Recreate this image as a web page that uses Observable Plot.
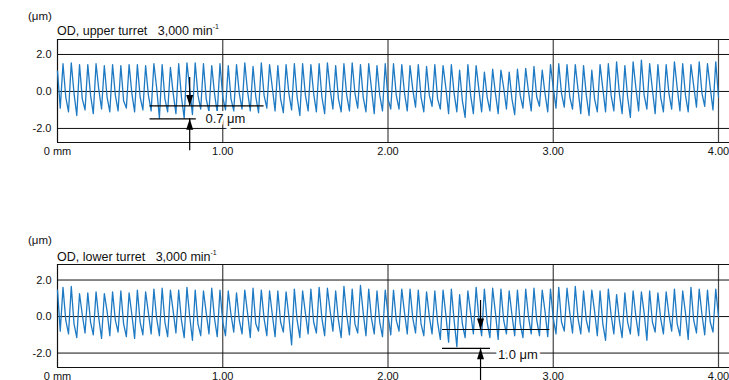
<!DOCTYPE html>
<html><head><meta charset="utf-8">
<script src="https://cdn.jsdelivr.net/npm/d3@7"></script>
<script src="https://cdn.jsdelivr.net/npm/@observablehq/plot@0.6"></script>
<style>
body{margin:0;background:#fff;}
#wrap{position:relative;width:729px;height:380px;overflow:hidden;background:#fff;font-family:"Liberation Sans",Arial,Helvetica,sans-serif;color:#111;}
.panel{position:absolute;left:0;}
.unit{position:absolute;left:28px;font-size:11.5px;line-height:12px;}
.title{position:absolute;left:57px;font-size:12.5px;line-height:14px;white-space:pre;}
.title sup{font-size:7px;position:relative;top:-1px;}
</style></head><body><div id="wrap"></div>
<script>
// ---- data (µm), sampled every 1/60 mm along the part ----
const sampleSpacing = 1 / 60;           // mm between samples
const xTicks = [0, 1, 2, 3, 4];         // mm
const yTicks = [-2, 0, 2];              // µm
const titles = ["OD, upper turret   3,000 min", "OD, lower turret   3,000 min"];

// upper turret trace: first samples, then per feed-mark peak / kink / trough
const upperStart = [1.10, -0.90];
const upperPeaks = [
  1.50,1.55,1.45,1.45,1.50,1.40,1.45,1.40,1.45,1.45,
  1.40,1.50,1.45,1.30,1.50,1.55,1.55,1.50,1.40,1.50,
  1.40,1.45,1.55,1.35,1.55,1.45,1.40,1.45,1.50,1.50,
  1.45,1.50,1.55,1.40,1.50,1.55,1.45,1.50,1.40,1.50,
  1.50,1.45,1.40,1.45,1.35,1.45,1.40,1.45,1.15,1.45,
  1.40,1.05,1.20,1.15,1.05,1.20,1.25,1.35,1.15,1.45,
  1.50,1.45,1.45,1.40,1.15,1.45,1.50,1.60,1.40,1.60,
  1.70,1.50,1.45,1.45,1.60,1.50,1.45,1.60,1.50,1.60];
const upperKinks = [
  -0.30,-0.10,-0.40,-0.20,0.10,-0.30,-0.20,-0.50,-0.10,-0.30,
  -0.20,0.20,-0.40,-0.10,-0.30,0.15,-0.20,-0.40,-0.10,-0.30,
  -0.40,-0.10,0.00,-0.30,-0.20,0.20,-0.40,-0.10,-0.30,-0.20,
  -0.10,-0.30,0.10,-0.40,-0.20,-0.10,-0.30,0.15,-0.20,-0.40,
  -0.20,-0.10,0.10,-0.30,-0.20,-0.40,0.20,-0.10,-0.50,-0.20,
  0.10,-0.30,-0.10,0.20,-0.40,-0.20,0.00,-0.30,-0.10,0.20,
  -0.10,-0.30,0.10,-0.20,-0.40,0.15,-0.20,-0.10,-0.30,0.20,
  -0.20,0.10,-0.30,-0.10,0.20,-0.20,0.30,-0.10,0.20,-0.30];
const upperTroughs = [
  -1.10,-1.30,-1.00,-1.20,-0.95,-1.10,-1.05,-0.90,-1.10,-1.00,
  -1.05,-1.45,-1.10,-1.20,-1.45,-1.25,-0.95,-1.10,-1.15,-1.00,
  -1.05,-0.95,-1.05,-1.15,-0.90,-1.05,-1.15,-1.00,-1.30,-1.05,
  -1.10,-1.20,-0.95,-1.10,-1.05,-0.90,-1.10,-1.20,-1.05,-0.95,
  -0.95,-1.05,-0.85,-1.10,-0.80,-0.95,-1.20,-1.10,-1.40,-1.20,
  -1.10,-1.05,-1.20,-0.95,-1.25,-0.90,-1.05,-0.80,-1.10,-0.90,
  -0.85,-0.95,-1.20,-1.30,-1.10,-1.10,-1.05,-1.20,-1.40,-1.05,
  -0.95,-1.20,-1.10,-0.95,-1.05,-1.10,-0.85,-0.80,-1.00];

// lower turret trace
const lowerStart = [1.45, -0.80];
const lowerPeaks = [
  1.60,1.65,1.25,1.30,1.35,1.25,1.35,1.40,1.30,1.45,
  1.35,1.50,1.55,1.45,1.45,1.60,1.45,1.40,1.55,1.45,
  1.40,1.30,1.45,1.55,1.45,1.40,1.40,1.35,1.50,1.40,
  1.50,1.60,1.55,1.40,1.65,1.50,1.70,1.50,1.40,1.45,
  1.45,1.50,1.50,1.45,1.35,1.40,1.45,1.50,1.20,1.40,
  1.60,1.50,1.55,1.50,1.40,1.45,1.50,1.55,1.45,1.50,
  1.60,1.55,1.65,1.40,1.45,1.40,1.50,1.20,1.30,1.40,
  1.35,1.40,1.30,1.35,1.50,1.40,1.60,1.50,1.45,1.50];
const lowerKinks = [
  -0.20,-0.40,0.10,-0.30,-0.10,0.30,-0.20,-0.40,0.10,-0.30,
  0.20,-0.10,-0.30,0.30,-0.20,0.00,-0.40,0.20,-0.10,-0.30,
  0.10,-0.20,0.20,-0.40,-0.10,0.10,-0.30,0.00,-0.20,0.20,
  -0.30,-0.10,0.30,-0.20,0.10,-0.40,0.20,-0.10,-0.30,0.10,
  -0.20,0.20,-0.10,-0.40,0.00,-0.30,0.10,-0.20,-0.40,0.20,
  -0.10,-0.30,0.20,-0.20,0.10,-0.40,0.00,-0.20,0.30,-0.10,
  -0.30,0.20,-0.10,-0.20,0.30,-0.40,0.10,-0.20,-0.30,0.00,
  0.20,-0.30,-0.10,0.10,-0.40,0.20,-0.20,0.10,-0.30,0.00];
const lowerTroughs = [
  -0.95,-1.15,-0.90,-1.00,-1.20,-1.05,-0.85,-1.10,-1.20,-1.00,
  -0.95,-1.05,-1.10,-0.90,-1.15,-1.30,-1.05,-0.95,-1.10,-1.05,
  -0.85,-0.95,-1.15,-0.80,-1.05,-1.10,-0.85,-1.55,-1.15,-0.95,
  -0.90,-1.05,-0.80,-1.15,-1.00,-0.90,-1.05,-0.95,-1.10,-1.00,
  -0.80,-0.95,-0.90,-1.05,-0.95,-1.25,-1.40,-1.65,-1.15,-0.95,
  -1.05,-1.15,-1.25,-0.95,-1.05,-1.15,-0.95,-1.05,-1.10,-0.95,
  -0.80,-0.90,-0.95,-0.85,-1.05,-1.30,-0.95,-1.15,-0.95,-1.05,
  -1.30,-0.85,-0.95,-0.80,-1.05,-1.25,-0.90,-1.00,-0.85];

// roughness call-outs: arrow position, the two reference levels, line extents (mm / µm)
const upperNote = {x: 0.80, hi: -0.78, lo: -1.48, hiFrom: 0.56, hiTo: 1.25, loFrom: 0.56, loTo: 0.84,
                   arrowTop: 0.76, arrowBottom: -3.2, labelX: 0.895, labelY: -1.50, label: "0.7 μm"};
const lowerNote = {x: 2.56, hi: -0.71, lo: -1.74, hiFrom: 2.33, hiTo: 2.98, loFrom: 2.33, loTo: 2.62,
                   arrowTop: 0.88, arrowBottom: -3.8, labelX: 2.665, labelY: -2.08, label: "1.0 μm"};

// ---- drawing ----
const blue = "#1f7ac4";
const downTri = {draw(ctx) { ctx.moveTo(0, 0); ctx.lineTo(-3.5, -11); ctx.lineTo(3.5, -11); ctx.closePath(); }};
const upTri = {draw(ctx) { ctx.moveTo(0, 0); ctx.lineTo(-3.5, 11); ctx.lineTo(3.5, 11); ctx.closePath(); }};

function buildTrace(start, peaks, kinks, troughs) {
  const ys = [...start];
  for (let k = 0; k < peaks.length; k++) {
    ys.push(peaks[k], kinks[k]);
    if (k < troughs.length) ys.push(troughs[k]);
  }
  return ys.map((y, j) => ({x: j * sampleSpacing, y}));
}

function panel({trace, note, yDomain, height, marginTop, marginBottom}) {
  return Plot.plot({
    width: 729, height, marginLeft: 57, marginRight: 0, marginTop, marginBottom,
    style: {fontFamily: "'Liberation Sans', Arial, Helvetica, sans-serif", fontSize: "11px", color: "#111", background: "transparent"},
    x: {domain: [0, 672 / 165.25]},
    y: {domain: yDomain},
    marks: [
      Plot.ruleX(xTicks.slice(1), {stroke: "#444", strokeWidth: 1.2}),
      Plot.ruleY(yTicks, {stroke: "#111", strokeWidth: 1}),
      Plot.ruleY(yDomain, {stroke: "#111", strokeWidth: 1.2}),
      Plot.ruleX([0], {stroke: "#111", strokeWidth: 1.2}),
      Plot.line(trace, {x: "x", y: "y", stroke: blue, strokeWidth: 1.3, strokeLinejoin: "round"}),
      Plot.ruleY([note], {y: "hi", x1: "hiFrom", x2: "hiTo", stroke: "#000", strokeWidth: 1.2}),
      Plot.ruleY([note], {y: "lo", x1: "loFrom", x2: "loTo", stroke: "#000", strokeWidth: 1.2}),
      Plot.ruleX([note], {x: "x", y1: "arrowTop", y2: "hi", stroke: "#000", strokeWidth: 1.2}),
      Plot.ruleX([note], {x: "x", y1: "lo", y2: "arrowBottom", stroke: "#000", strokeWidth: 1.2}),
      Plot.dot([note], {x: "x", y: "hi", symbol: downTri, r: 4, fill: "#000", stroke: null}),
      Plot.dot([note], {x: "x", y: "lo", symbol: upTri, r: 4, fill: "#000", stroke: null}),
      Plot.text([note], {x: "labelX", y: "labelY", text: "label", textAnchor: "start", fontSize: 13,
                         fill: "#111", stroke: "white", strokeWidth: 6}),
      Plot.axisX({ticks: xTicks, tickFormat: d => d === 0 ? "0 mm" : d.toFixed(2), tickSize: 0, tickPadding: 5, fontSize: 11}),
      Plot.axisY({ticks: yTicks, tickFormat: d => d.toFixed(1), tickSize: 0, tickPadding: 6, fontSize: 11})
    ]
  });
}

const wrap = document.getElementById("wrap");
const specs = [
  {top: 0, trace: buildTrace(upperStart, upperPeaks, upperKinks, upperTroughs), note: upperNote,
   yDomain: [-2.76, 2.81], height: 223, marginTop: 39, marginBottom: 81, unitTop: 10, titleTop: 21},
  {top: 223, trace: buildTrace(lowerStart, lowerPeaks, lowerKinks, lowerTroughs), note: lowerNote,
   yDomain: [-2.79, 2.85], height: 157, marginTop: 41, marginBottom: 13, unitTop: 234, titleTop: 247}
];
specs.forEach((s, i) => {
  const div = document.createElement("div");
  div.className = "panel";
  div.style.top = s.top + "px";
  div.appendChild(panel(s));
  wrap.appendChild(div);
  const u = document.createElement("div");
  u.className = "unit"; u.style.top = s.unitTop + "px"; u.textContent = "(μm)";
  wrap.appendChild(u);
  const t = document.createElement("div");
  t.className = "title"; t.style.top = s.titleTop + "px";
  t.textContent = titles[i];
  const sup = document.createElement("sup"); sup.textContent = "-1";
  t.appendChild(sup);
  wrap.appendChild(t);
});
</script>
</body></html>
